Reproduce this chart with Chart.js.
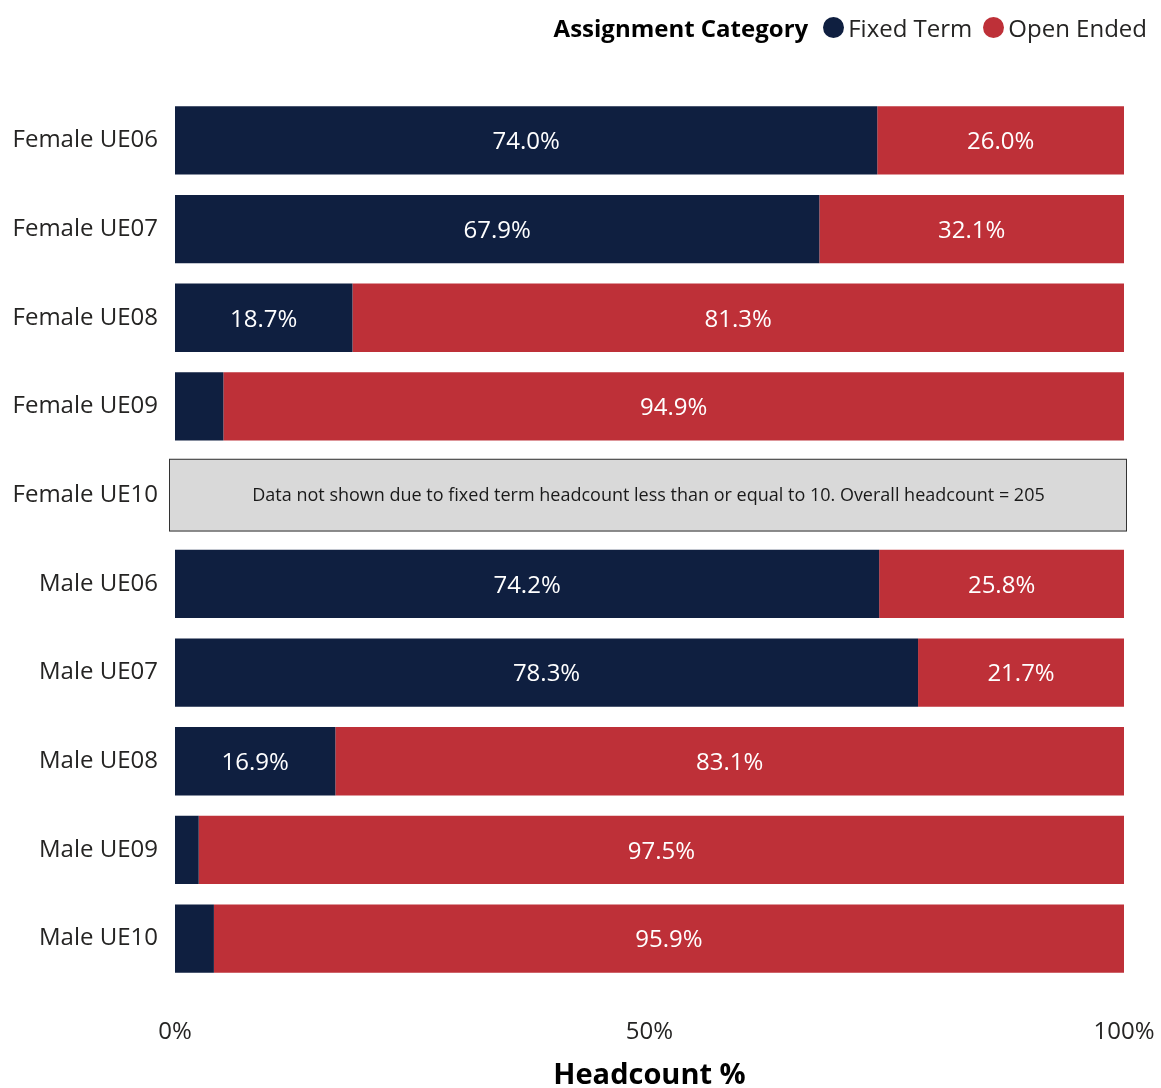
<!DOCTYPE html>
<html>
<head>
<meta charset="utf-8">
<script src="https://cdn.jsdelivr.net/npm/chart.js@4.4.0/dist/chart.umd.min.js"></script>
<style>
  html, body { margin: 0; padding: 0; background: #fff; }
  #wrap { position: relative; width: 1161px; height: 1088px; }
  #legend {
    position: absolute; top: 11px; right: 14px;
    display: flex; align-items: center;
    font-family: 'Open Sans', sans-serif; font-size: 24px; color: #252423;
  }
  #legend .title { font-weight: bold; font-size: 24px; margin-right: 15px; color: #000; }
  #legend .dot { width: 21px; height: 21px; border-radius: 50%; margin-right: 4px; }
  #legend .item { display: flex; align-items: center; margin-right: 11px; }
  #legend .item:last-child { margin-right: 0; }
</style>
</head>
<body>
<div id="wrap">
  <canvas id="chart" width="1161" height="1088"></canvas>
  <div id="legend"></div>
</div>
<script>
// categories and series (headcount %)
const categories = ['Female UE06', 'Female UE07', 'Female UE08', 'Female UE09', 'Female UE10',
                    'Male UE06', 'Male UE07', 'Male UE08', 'Male UE09', 'Male UE10'];
const fixedTerm = [74.0, 67.9, 18.7, 5.1, null, 74.2, 78.3, 16.9, 2.5, 4.1];
const openEnded = [26.0, 32.1, 81.3, 94.9, null, 25.8, 21.7, 83.1, 97.5, 95.9];
const xTicks = [0, 50, 100];
const legendTitle = 'Assignment Category';
const hiddenNote = 'Data not shown due to fixed term headcount less than or equal to 10. Overall headcount = 205';

const colors = { fixed: '#0f1f40', open: '#be3038' };
const FONT = "'Open Sans', sans-serif";

// legend
const legend = document.getElementById('legend');
legend.innerHTML = `
  <span class="title">${legendTitle}</span>
  <span class="item"><span class="dot" style="background:${colors.fixed}"></span>Fixed Term</span>
  <span class="item"><span class="dot" style="background:${colors.open}"></span>Open Ended</span>
`;

// labels inside bars
const barLabels = {
    id: 'barLabels',
    afterDatasetsDraw(chart) {
        const ctx = chart.ctx;
        ctx.save();
        ctx.font = `24px ${FONT}`;
        ctx.fillStyle = '#ffffff';
        ctx.textAlign = 'center';
        ctx.textBaseline = 'middle';
        chart.data.datasets.forEach((ds, di) => {
            chart.getDatasetMeta(di).data.forEach((bar, i) => {
                const v = ds.data[i];
                if (v == null || v < 6) return;
                ctx.fillText(v.toFixed(1) + '%', (bar.x + bar.base) / 2, bar.y + 2);
            });
        });
        ctx.restore();
    }
};

// grey box for suppressed category
const noteBox = {
    id: 'noteBox',
    afterDatasetsDraw(chart) {
        const ctx = chart.ctx;
        const area = chart.chartArea;
        const y = chart.scales.y;
        const band = (y.getPixelForValue(1) - y.getPixelForValue(0));
        ctx.save();
        fixedTerm.forEach((v, i) => {
            if (v != null) return;
            const cy = y.getPixelForValue(i);
            const h = band * 0.82;
            ctx.fillStyle = '#d9d9d9';
            ctx.fillRect(area.left - 6, cy - h / 2, area.width + 9, h);
            ctx.strokeStyle = '#333333';
            ctx.lineWidth = 1;
            ctx.strokeRect(area.left - 5.5, cy - h / 2 + 0.5, area.width + 8, h - 1);
            ctx.fillStyle = '#1a1a1a';
            ctx.font = `18px ${FONT}`;
            ctx.textAlign = 'center';
            ctx.textBaseline = 'middle';
            ctx.fillText(hiddenNote, area.left + area.width * 0.5 - 1, cy + 1);
        });
        ctx.restore();
    }
};

new Chart(document.getElementById('chart'), {
    type: 'bar',
    data: {
        labels: categories,
        datasets: [
            { label: 'Fixed Term', data: fixedTerm, backgroundColor: colors.fixed, barPercentage: 0.77, categoryPercentage: 1 },
            { label: 'Open Ended', data: openEnded, backgroundColor: colors.open, barPercentage: 0.77, categoryPercentage: 1 }
        ]
    },
    options: {
        indexAxis: 'y',
        responsive: false,
        animation: false,
        layout: { padding: { top: 96, right: 37, left: 0, bottom: 0 } },
        plugins: {
            legend: { display: false },
            tooltip: { enabled: false }
        },
        scales: {
            x: {
                stacked: true,
                min: 0,
                max: 100,
                border: { display: false },
                grid: { display: false, drawTicks: false },
                afterBuildTicks(scale) { scale.ticks = xTicks.map(v => ({ value: v })); },
                afterFit(scale) {
                    scale.height = 105;
                    scale.paddingLeft = 0;
                    scale.paddingRight = 0;
                },
                ticks: {
                    padding: 35,
                    color: '#252423',
                    font: { family: FONT, size: 24 },
                    maxRotation: 0,
                    callback: v => v + '%'
                },
                title: {
                    display: true,
                    text: 'Headcount %',
                    color: '#000',
                    padding: { top: 0, bottom: 0 },
                    font: { family: FONT, size: 29, weight: 'bold', lineHeight: 0.85 }
                }
            },
            y: {
                stacked: true,
                border: { display: false },
                grid: { display: false, drawTicks: false },
                afterFit(scale) {
                    scale.width = 175;
                    scale.paddingTop = 0;
                    scale.paddingBottom = 0;
                },
                ticks: {
                    padding: 17,
                    color: '#252423',
                    font: { family: FONT, size: 24 }
                }
            }
        }
    },
    plugins: [barLabels, noteBox]
});
</script>
</body>
</html>
